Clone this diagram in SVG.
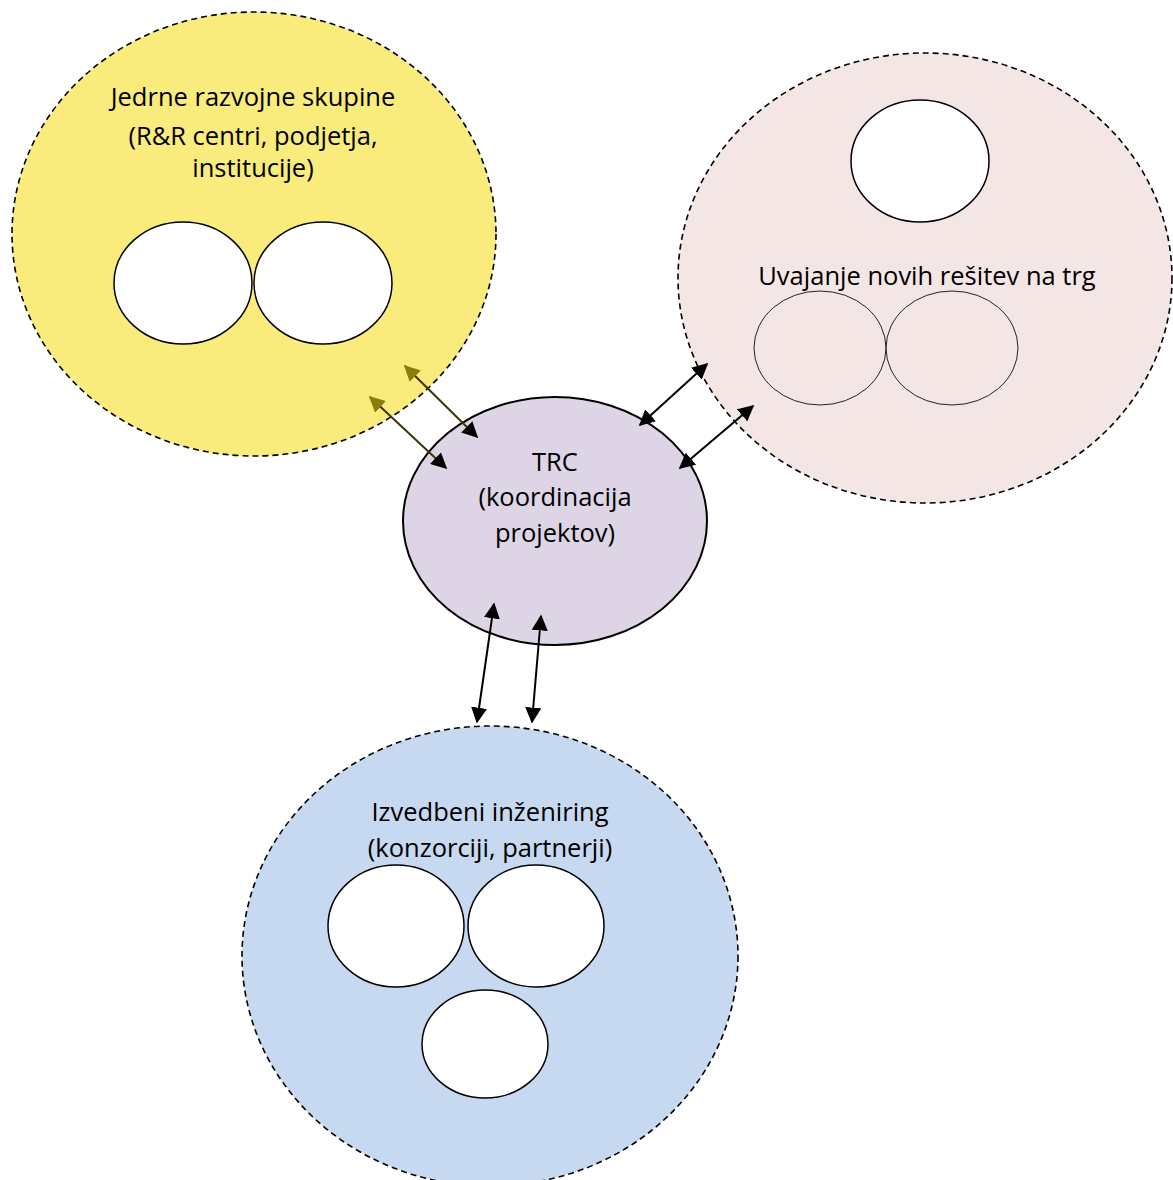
<svg xmlns="http://www.w3.org/2000/svg" width="1173" height="1180" viewBox="0 0 1173 1180">
<defs>
<style>
.big{stroke:#000;stroke-width:1.6;stroke-dasharray:6 4}
.sub{fill:#fff;stroke:#000;stroke-width:1.5}
.thin{fill:none;stroke:#222;stroke-width:1}
.lbl{font-family:"Open Sans","Liberation Sans",sans-serif;font-size:25.5px;fill:#000;text-anchor:middle}
.conn{stroke:#000;stroke-width:2;fill:none}
.olive{stroke:#3a3600}
</style>
<marker id="ah" viewBox="0 0 10 10" refX="9" refY="5" markerWidth="8" markerHeight="8" orient="auto-start-reverse" markerUnits="strokeWidth"><path d="M0,0 L10,5 L0,10 z" fill="#000"/></marker>
<marker id="ahO" viewBox="0 0 10 10" refX="9" refY="5" markerWidth="8" markerHeight="8" orient="auto-start-reverse" markerUnits="strokeWidth"><path d="M0,0 L10,5 L0,10 z" fill="#8a7d0a"/></marker>
</defs>
<rect width="1173" height="1180" fill="#fff"/>
<g id="node-jedrne">
<ellipse cx="254" cy="234" rx="242" ry="222" fill="#f9ec7d" class="big"/>
<ellipse cx="183" cy="283" rx="69" ry="61" class="sub"/>
<ellipse cx="323" cy="283" rx="69" ry="61" class="sub"/>
<text class="lbl" x="253" y="106">Jedrne razvojne skupine</text>
<text class="lbl" x="253" y="145">(R&amp;R centri, podjetja,</text>
<text class="lbl" x="253" y="177">institucije)</text>
</g>
<g id="node-uvajanje">
<ellipse cx="925" cy="278" rx="247" ry="225" fill="#f5e6e6" class="big"/>
<ellipse cx="920" cy="161" rx="69" ry="61" class="sub"/>
<ellipse cx="820" cy="348" rx="66" ry="57" class="thin"/>
<ellipse cx="952" cy="348" rx="66" ry="57" class="thin"/>
<text class="lbl" x="927" y="285">Uvajanje novih rešitev na trg</text>
</g>
<g id="node-izvedbeni">
<ellipse cx="490" cy="956" rx="248" ry="230" fill="#c6d9f0" class="big"/>
<ellipse cx="396" cy="926" rx="68" ry="61" class="sub"/>
<ellipse cx="536" cy="926" rx="68" ry="61" class="sub"/>
<ellipse cx="485" cy="1044" rx="63" ry="54" class="sub"/>
<text class="lbl" x="490" y="821">Izvedbeni inženiring</text>
<text class="lbl" x="490" y="857">(konzorciji, partnerji)</text>
</g>
<g id="node-trc">
<ellipse cx="555" cy="521" rx="152" ry="124" fill="#ddd5e6" stroke="#000" stroke-width="2"/>
<text class="lbl" x="555" y="471">TRC</text>
<text class="lbl" x="555" y="506">(koordinacija</text>
<text class="lbl" x="555" y="542">projektov)</text>
</g>
<g id="connectors">
<line class="conn olive" x1="370" y1="397" x2="446" y2="468" marker-start="url(#ahO)" marker-end="url(#ah)"/>
<line class="conn olive" x1="405" y1="366" x2="477" y2="437" marker-start="url(#ahO)" marker-end="url(#ah)"/>
<line class="conn" x1="640" y1="425" x2="707" y2="364" marker-start="url(#ah)" marker-end="url(#ah)"/>
<line class="conn" x1="680" y1="468" x2="753" y2="406" marker-start="url(#ah)" marker-end="url(#ah)"/>
<line class="conn" x1="494" y1="604" x2="477" y2="722" marker-start="url(#ah)" marker-end="url(#ah)"/>
<line class="conn" x1="541" y1="616" x2="532" y2="722" marker-start="url(#ah)" marker-end="url(#ah)"/>
</g>
</svg>
